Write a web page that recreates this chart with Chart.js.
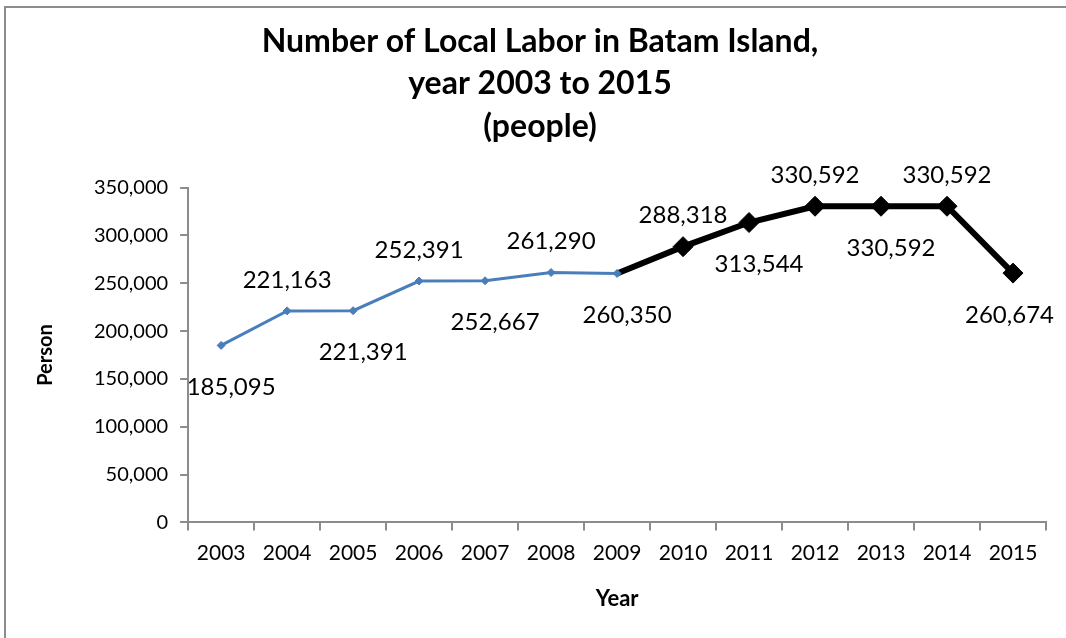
<!DOCTYPE html>
<html lang="en">
<head>
    <meta charset="UTF-8">
    <title>Number of Local Labor in Batam Island</title>
    <script src="https://cdn.jsdelivr.net/npm/chart.js"></script>
    <style>
        body {
            margin: 0;
            background: #ffffff;
        }
        #frame {
            position: absolute;
            left: 4px;
            top: 6px;
            width: 1070px;
            height: 640px;
            border-top: 2px solid #8c8c8c;
            border-left: 2px solid #8c8c8c;
        }
        canvas {
            position: absolute;
            left: 0;
            top: 0;
        }
    </style>
</head>
<body>
    <div id="frame"></div>
    <canvas id="chart" width="1066" height="638"></canvas>
    <script>
        const years = ['2003', '2004', '2005', '2006', '2007', '2008', '2009',
                       '2010', '2011', '2012', '2013', '2014', '2015'];
        // valores de cada ano
        const labor = [185095, 221163, 221391, 252391, 252667, 261290, 260350,
                       288318, 313544, 330592, 330592, 330592, 260674];
        // rotulo acima ou abaixo do ponto
        const labelSide = ['below', 'above', 'below', 'above', 'below', 'above', 'below',
                           'above', 'below', 'above', 'below', 'above', 'below'];
        const splitIndex = 6; // 2009: onde a linha azul vira preta

        const firstPart = labor.map((v, i) => (i <= splitIndex ? v : null));
        const secondPart = labor.map((v, i) => (i >= splitIndex ? v : null));

        const fontFamily = 'Lato, "Open Sans", sans-serif';

        const dataLabels = {
            id: 'dataLabels',
            afterDatasetsDraw(chart) {
                const { ctx } = chart;
                const blue = chart.getDatasetMeta(0);
                const black = chart.getDatasetMeta(1);
                ctx.save();
                ctx.font = '24px ' + fontFamily;
                ctx.fillStyle = '#000000';
                ctx.textAlign = 'center';
                ctx.textBaseline = 'middle';
                labor.forEach((value, i) => {
                    const point = i <= splitIndex ? blue.data[i] : black.data[i];
                    const text = value.toLocaleString('en-US');
                    const above = labelSide[i] === 'above';
                    let x = point.x + (above ? 0 : 10);
                    const half = ctx.measureText(text).width / 2;
                    // não deixar o rótulo passar da borda direita
                    x = Math.min(x, chart.width - 12 - half);
                    const y = point.y + (above ? -31 : 42);
                    ctx.fillText(text, x, y);
                });
                ctx.restore();
            }
        };

        const chart = new Chart(document.getElementById('chart').getContext('2d'), {
            type: 'line',
            data: {
                labels: years,
                datasets: [
                    {
                        label: 'Local labor',
                        data: firstPart,
                        borderColor: '#4a7ebb',
                        backgroundColor: '#4a7ebb',
                        borderWidth: 3,
                        pointStyle: 'rectRot',
                        pointRadius: 4,
                        pointBorderWidth: 1,
                        tension: 0,
                        order: 1
                    },
                    {
                        label: 'Local labor (2009-2015)',
                        data: secondPart,
                        borderColor: '#000000',
                        backgroundColor: '#000000',
                        borderWidth: 6,
                        pointStyle: 'rectRot',
                        pointRadius: secondPart.map((v, i) => (i === splitIndex ? 0 : 10)),
                        pointBorderWidth: 1,
                        tension: 0,
                        order: 2
                    }
                ]
            },
            options: {
                responsive: false,
                animation: false,
                clip: false,
                layout: {
                    padding: { left: 34, right: 20, top: 20, bottom: 26 }
                },
                plugins: {
                    legend: { display: false },
                    tooltip: { enabled: false },
                    title: {
                        display: true,
                        text: ['Number of Local Labor in Batam Island,', 'year 2003 to 2015', '(people)'],
                        color: '#000000',
                        font: { family: fontFamily, size: 32, weight: 'bold', lineHeight: 1.33 },
                        padding: { top: 0, bottom: 40 }
                    }
                },
                scales: {
                    x: {
                        offset: true,
                        grid: {
                            offset: true,
                            drawOnChartArea: false,
                            drawTicks: true,
                            tickLength: 8,
                            color: '#8c8c8c',
                            lineWidth: 2
                        },
                        border: { color: '#8c8c8c', width: 2 },
                        ticks: {
                            color: '#000000',
                            font: { family: fontFamily, size: 21 },
                            padding: 10,
                            maxRotation: 0
                        },
                        title: {
                            display: true,
                            text: 'Year',
                            color: '#000000',
                            font: { family: fontFamily, size: 22, weight: 'bold' },
                            padding: { top: 10, bottom: 0 }
                        }
                    },
                    y: {
                        min: 0,
                        max: 350000,
                        grid: {
                            drawOnChartArea: false,
                            drawTicks: true,
                            tickLength: 8,
                            color: '#8c8c8c',
                            lineWidth: 2
                        },
                        border: { color: '#8c8c8c', width: 2 },
                        ticks: {
                            stepSize: 50000,
                            color: '#000000',
                            font: { family: fontFamily, size: 20 },
                            padding: 12,
                            callback: (value) => value.toLocaleString('en-US')
                        },
                        title: {
                            display: true,
                            text: 'Person',
                            color: '#000000',
                            font: { family: fontFamily, size: 20, weight: 'bold' },
                            padding: { top: 0, bottom: 24 }
                        }
                    }
                }
            },
            plugins: [dataLabels]
        });
    </script>
</body>
</html>
